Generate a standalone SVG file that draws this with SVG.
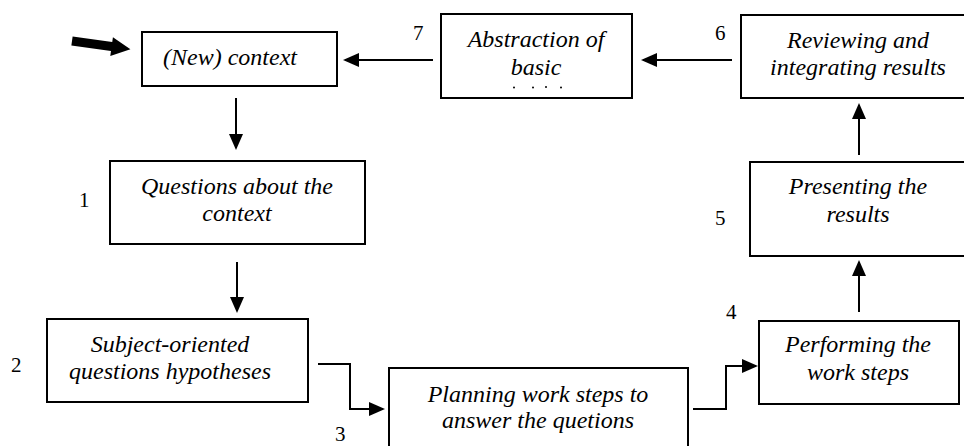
<svg xmlns="http://www.w3.org/2000/svg" width="964" height="446" viewBox="0 0 964 446">
<style>
.box{fill:#fff;stroke:#000;stroke-width:2}
.t{font-family:"Liberation Serif","Tinos","Times New Roman","DejaVu Serif",serif;font-style:italic;font-size:24px;fill:#000;text-anchor:middle}
.n{font-family:"Liberation Serif","Tinos","Times New Roman","DejaVu Serif",serif;font-size:21px;fill:#000}
.c{fill:none;stroke:#000;stroke-width:2}
</style>
<defs>
<marker id="ah" markerUnits="userSpaceOnUse" markerWidth="16" markerHeight="14" refX="14" refY="7" orient="auto">
<path d="M0,0 L16,7 L0,14 z" fill="#000"/>
</marker>
</defs>
<rect width="964" height="446" fill="#fff"/>

<g id="connectors">
<g transform="translate(72,41) rotate(8)">
<polygon points="0,-4.5 40,-4.5 40,-9.5 59,0 40,9.5 40,4.5 0,4.5" fill="#000"/>
</g>
<line class="c" x1="433" y1="60" x2="345" y2="60" marker-end="url(#ah)"/>
<line class="c" x1="732" y1="60" x2="643" y2="60" marker-end="url(#ah)"/>
<line class="c" x1="236" y1="98" x2="236" y2="148" marker-end="url(#ah)"/>
<line class="c" x1="237" y1="262" x2="237" y2="311" marker-end="url(#ah)"/>
<polyline class="c" points="318,364 350,364 350,409 383,409" marker-end="url(#ah)"/>
<polyline class="c" points="693,409 726,409 726,366 756,366" marker-end="url(#ah)"/>
<line class="c" x1="859" y1="312" x2="859" y2="262" marker-end="url(#ah)"/>
<line class="c" x1="859" y1="155" x2="859" y2="105" marker-end="url(#ah)"/>
</g>

<g id="node-context">
<rect class="box" x="142" y="32" width="195" height="54"/>
<text class="t" x="230" y="65">(New) context</text>
</g>

<g id="node-abstraction">
<rect class="box" x="441" y="14" width="191" height="84"/>
<text class="t" x="536" y="47">Abstraction of</text>
<text class="t" x="536" y="75">basic</text>
<circle cx="514" cy="87.5" r="1" fill="#000"/>
<circle cx="533" cy="87.5" r="1" fill="#000"/>
<circle cx="546" cy="87" r="1" fill="#000"/>
<circle cx="561" cy="87.5" r="1" fill="#000"/>
<text class="n" x="413" y="40">7</text>
</g>

<g id="node-reviewing">
<rect class="box" x="741" y="15" width="240" height="83"/>
<text class="t" x="858" y="48">Reviewing and</text>
<text class="t" x="858" y="75">integrating results</text>
<text class="n" x="715" y="40">6</text>
</g>

<g id="node-questions">
<rect class="box" x="110" y="161" width="255" height="83"/>
<text class="t" x="237" y="194">Questions about the</text>
<text class="t" x="237" y="221">context</text>
<text class="n" x="79" y="207">1</text>
</g>

<g id="node-presenting">
<rect class="box" x="750" y="162" width="220" height="94"/>
<text class="t" x="858" y="194">Presenting the</text>
<text class="t" x="858" y="222">results</text>
<text class="n" x="715" y="225">5</text>
</g>

<g id="node-subject">
<rect class="box" x="47" y="319" width="261" height="83"/>
<text class="t" x="170" y="352">Subject-oriented</text>
<text class="t" x="170" y="379">questions hypotheses</text>
<text class="n" x="11" y="372">2</text>
</g>

<g id="node-planning">
<rect class="box" x="389" y="368" width="299" height="90"/>
<text class="t" x="538" y="402">Planning work steps to</text>
<text class="t" x="538" y="428">answer the quetions</text>
<text class="n" x="335" y="441">3</text>
</g>

<g id="node-performing">
<rect class="box" x="759" y="321" width="200" height="83"/>
<text class="t" x="858" y="352">Performing the</text>
<text class="t" x="858" y="380">work steps</text>
<text class="n" x="726" y="319">4</text>
</g>
</svg>
